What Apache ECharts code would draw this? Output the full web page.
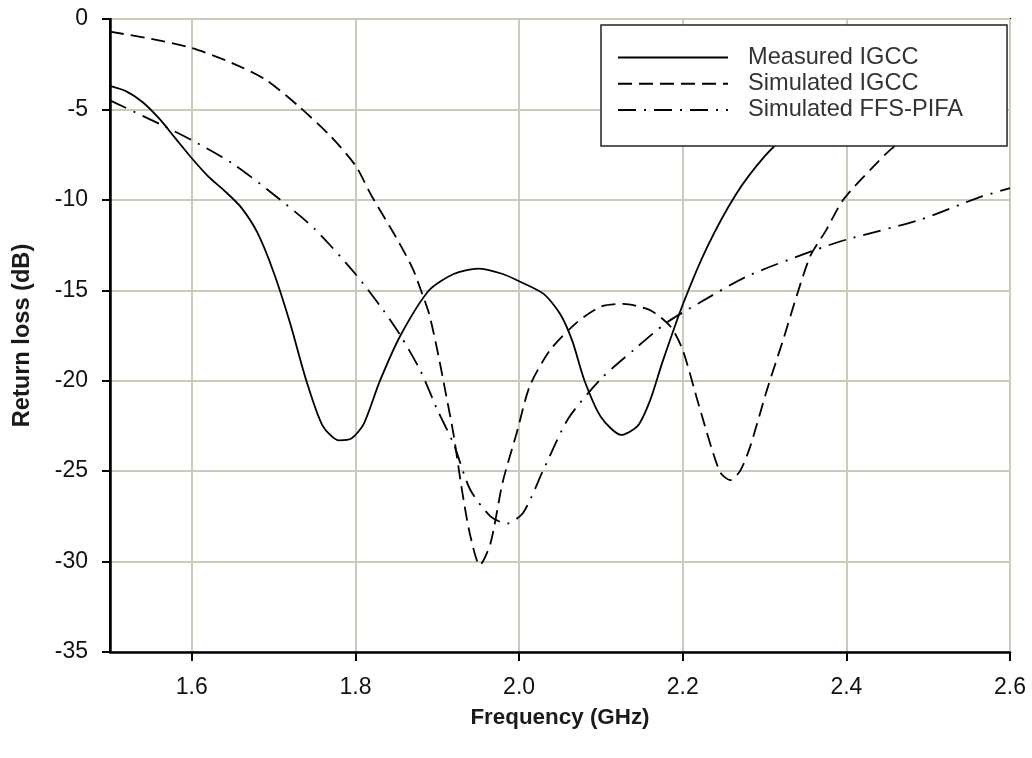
<!DOCTYPE html>
<html>
<head>
<meta charset="utf-8">
<script src="https://cdn.jsdelivr.net/npm/echarts@6/dist/echarts.min.js"></script>
<style>
html,body{margin:0;padding:0;background:#fff;}
#chart{width:1032px;height:758px;}
</style>
</head>
<body>
<div id="chart"></div>
<script>
const seriesNames = ['Measured IGCC', 'Simulated IGCC', 'Simulated FFS-PIFA'];
const xTicks = [1.6, 1.8, 2.0, 2.2, 2.4, 2.6];

const measuredIGCC = [
  [1.50,-3.7],[1.52,-4.0],[1.54,-4.6],[1.56,-5.5],[1.58,-6.6],[1.60,-7.7],[1.62,-8.7],
  [1.64,-9.5],[1.66,-10.4],[1.68,-11.8],[1.70,-14.0],[1.72,-16.8],[1.74,-20.0],[1.76,-22.5],
  [1.78,-23.3],[1.795,-23.2],[1.81,-22.4],[1.83,-20.0],[1.855,-17.5],[1.89,-15.0],[1.92,-14.1],
  [1.95,-13.8],[1.98,-14.1],[2.00,-14.5],[2.03,-15.2],[2.05,-16.3],[2.065,-17.8],[2.08,-20.0],
  [2.10,-22.0],[2.125,-23.0],[2.145,-22.5],[2.16,-21.1],[2.175,-19.0],[2.20,-15.8],[2.23,-12.6],
  [2.265,-9.7],[2.30,-7.6],[2.33,-6.3],[2.37,-5.0],[2.40,-4.2]
];
const simulatedIGCC = [
  [1.50,-0.7],[1.55,-1.1],[1.60,-1.6],[1.65,-2.45],[1.69,-3.35],[1.73,-4.8],[1.77,-6.5],
  [1.80,-8.1],[1.82,-9.8],[1.85,-12.1],[1.87,-13.8],[1.88,-15.0],[1.89,-16.3],[1.90,-18.3],
  [1.91,-20.6],[1.92,-23.0],[1.93,-26.0],[1.94,-28.5],[1.952,-30.2],[1.965,-29.0],[1.98,-25.6],
  [1.997,-22.9],[2.013,-20.3],[2.038,-18.3],[2.07,-16.8],[2.10,-15.9],[2.127,-15.75],[2.16,-16.1],
  [2.185,-17.0],[2.20,-18.3],[2.22,-21.4],[2.245,-25.0],[2.258,-25.5],[2.27,-25.0],[2.282,-23.7],
  [2.303,-20.5],[2.323,-17.7],[2.34,-15.2],[2.356,-13.1],[2.375,-11.7],[2.396,-10.0],[2.43,-8.3],
  [2.46,-7.0],[2.52,-5.4],[2.60,-3.5]
];
const simulatedFFSPIFA = [
  [1.50,-4.5],[1.565,-5.9],[1.60,-6.7],[1.65,-8.0],[1.70,-9.7],[1.75,-11.6],[1.80,-14.1],
  [1.834,-16.1],[1.855,-17.5],[1.88,-19.5],[1.90,-21.6],[1.92,-23.5],[1.94,-26.0],[1.965,-27.5],
  [1.985,-27.9],[2.005,-27.3],[2.03,-24.9],[2.06,-22.1],[2.10,-19.9],[2.14,-18.3],[2.18,-16.8],
  [2.22,-15.7],[2.28,-14.2],[2.36,-12.8],[2.40,-12.2],[2.49,-11.1],[2.56,-9.9],[2.60,-9.35]
];

const FONT = '"Liberation Sans", Arial, Helvetica, sans-serif';
const chart = echarts.init(document.getElementById('chart'), null, {renderer: 'canvas'});

function mkSeries(name, data, type) {
  return {
    name: name, type: 'line', data: data, smooth: 0.25, symbol: 'none', showSymbol: false,
    clip: true, z: 3,
    lineStyle: {color: '#000', width: 1.8, type: type},
    itemStyle: {color: '#000'},
    emphasis: {disabled: true}
  };
}

chart.setOption({
  animation: false,
  backgroundColor: '#fff',
  grid: {left: 110, right: 22, top: 19, bottom: 106, show: true, borderColor: '#000', borderWidth: 2, backgroundColor: 'transparent'},
  legend: {
    orient: 'vertical', left: 601, top: 25,
    padding: [20.5, 44, 24, 16],
    itemWidth: 110, itemHeight: 20, itemGap: 2.2,
    backgroundColor: '#fff', borderColor: '#222', borderWidth: 1.5,
    itemStyle: {color: 'rgba(0,0,0,0)', borderColor: 'rgba(0,0,0,0)', borderWidth: 0, opacity: 0},
    textStyle: {fontSize: 23.6, color: '#333', fontFamily: FONT, padding: [0, 0, 0, 15]},
    selectedMode: false,
    data: seriesNames
  },
  xAxis: {
    type: 'value', min: 1.5, max: 2.6,
    name: 'Frequency (GHz)', nameLocation: 'middle', nameGap: 55,
    nameTextStyle: {fontSize: 22.4, fontWeight: 'bold', color: '#1a1a1a', fontFamily: FONT},
    axisLine: {show: true, onZero: false, lineStyle: {color: '#000', width: 2.5}},
    axisTick: {show: true, length: 9, lineStyle: {color: '#000', width: 2}, customValues: xTicks},
    axisLabel: {fontSize: 23, color: '#111', fontFamily: FONT, margin: 24, customValues: xTicks,
      formatter: v => Number(v).toFixed(1)},
    splitLine: {show: true, lineStyle: {color: '#cbcbbb', width: 2}}
  },
  yAxis: {
    type: 'value', min: -35, max: 0, interval: 5,
    name: 'Return loss (dB)', nameLocation: 'middle', nameGap: 76,
    nameTextStyle: {fontSize: 23.6, fontWeight: 'bold', color: '#1a1a1a', fontFamily: FONT},
    axisLine: {show: true, onZero: false, lineStyle: {color: '#000', width: 2.5}},
    axisTick: {show: true, length: 8, lineStyle: {color: '#000', width: 2}},
    axisLabel: {fontSize: 23, color: '#111', fontFamily: FONT, margin: 22},
    splitLine: {show: true, lineStyle: {color: '#cbcbbb', width: 2}}
  },
  series: [
    mkSeries(seriesNames[0], measuredIGCC, 'solid'),
    mkSeries(seriesNames[1], simulatedIGCC, [14, 7]),
    mkSeries(seriesNames[2], simulatedFFSPIFA, [18, 8, 2, 8])
  ]
});
</script>
</body>
</html>
